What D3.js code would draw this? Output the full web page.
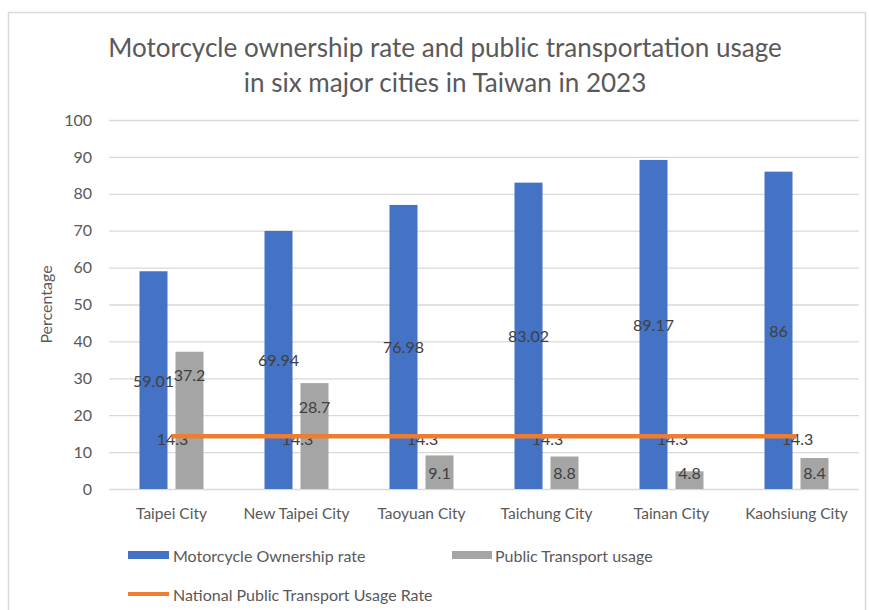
<!DOCTYPE html>
<html><head><meta charset="utf-8">
<script src="https://cdn.jsdelivr.net/npm/d3@7"></script>
<style>
body{margin:0;background:#fff}
svg text{font-family:Lato,"Liberation Sans",Arial,sans-serif;}
</style>
</head><body>
<svg id="chart" width="869" height="610"></svg>
<script>
const categories = ["Taipei City","New Taipei City","Taoyuan City","Taichung City","Tainan City","Kaohsiung City"];
const motorcycleOwnership = [59.01,69.94,76.98,83.02,89.17,86];
const publicTransportUsage = [37.2,28.7,9.1,8.8,4.8,8.4];
const nationalUsageRate = [14.3,14.3,14.3,14.3,14.3,14.3];
const yTicks = [0,10,20,30,40,50,60,70,80,90,100];
const seriesNames = ["Motorcycle Ownership rate","Public Transport usage","National Public Transport Usage Rate"];
const titleLines = ["Motorcycle ownership rate and public transportation usage","in six major cities in Taiwan in 2023"];
const yAxisTitle = "Percentage";

const colors = {moto:"#4472C4", pub:"#A5A5A5", nat:"#ED7D31"};
const textColor = "#595959", labelColor = "#404040";

const svg = d3.select("#chart");

// frame
svg.append("rect").attr("x",8.5).attr("y",12.5).attr("width",857).attr("height",640)
  .attr("fill","#fff").attr("stroke","#d9d9d9").attr("stroke-width",1.5);

// fit helper
function fit(sel, target){
  const w = sel.node().getComputedTextLength();
  const fs = parseFloat(sel.attr("font-size"));
  sel.attr("font-size", (fs*target/w).toFixed(2));
}

// title
const t1 = svg.append("text").attr("x",445).attr("y",47).attr("text-anchor","middle")
  .attr("dominant-baseline","central").attr("font-size",22).attr("fill",textColor).text(titleLines[0]);
fit(t1, 674);
const t2 = svg.append("text").attr("x",445).attr("y",82).attr("text-anchor","middle")
  .attr("dominant-baseline","central").attr("font-size",22).attr("fill",textColor).text(titleLines[1]);
t2.attr("font-size", t1.attr("font-size"));

const x0 = d3.scaleBand().domain(categories).range([109,859]).paddingInner(0).paddingOuter(0);
const y = d3.scaleLinear().domain([0,100]).range([489,120]);
const groupW = 64;
const x1 = d3.scaleBand().domain(["moto","pub"])
  .range([(x0.bandwidth()-groupW)/2,(x0.bandwidth()+groupW)/2]).paddingInner(8/36).paddingOuter(0);

// gridlines
svg.append("g").selectAll("line").data(yTicks).join("line")
  .attr("x1",109).attr("x2",859).attr("y1",d=>y(d)+0.5).attr("y2",d=>y(d)+0.5)
  .attr("stroke","#d9d9d9").attr("stroke-width",1.3);

// y axis labels
const yAxis = d3.axisLeft(y).tickValues(yTicks).tickSize(0).tickPadding(0);
const yg = svg.append("g").attr("transform","translate(92,0)").call(yAxis);
yg.select(".domain").remove();
yg.selectAll("text").attr("font-size",16).attr("fill",textColor).attr("font-family",null);

// y title
svg.append("text").attr("transform",`translate(45,${(y(0)+y(100))/2}) rotate(-90)`)
  .attr("text-anchor","middle").attr("dominant-baseline","central")
  .attr("font-size",16).attr("fill",textColor).text(yAxisTitle);

// x axis labels
const xAxis = d3.axisBottom(x0).tickSize(0).tickPadding(0);
const xg = svg.append("g").attr("transform","translate(0,508)").call(xAxis);
xg.select(".domain").remove();
xg.selectAll("text").attr("font-size",15.5).attr("fill",textColor).attr("font-family",null);

const rows = categories.map((c,i)=>({c, moto:motorcycleOwnership[i], pub:publicTransportUsage[i], nat:nationalUsageRate[i]}));

// bars
const groups = svg.append("g").selectAll("g").data(rows).join("g")
  .attr("transform",d=>`translate(${x0(d.c)},0)`);
groups.append("rect").attr("x",x1("moto")).attr("width",x1.bandwidth())
  .attr("y",d=>y(d.moto)).attr("height",d=>y(0)-y(d.moto)).attr("fill",colors.moto);
groups.append("rect").attr("x",x1("pub")).attr("width",x1.bandwidth())
  .attr("y",d=>y(d.pub)).attr("height",d=>y(0)-y(d.pub)).attr("fill",colors.pub);

// national line
const line = d3.line().x(d=>x0(d.c)+x0.bandwidth()/2).y(d=>y(d.nat));
svg.append("path").datum(rows).attr("d",line).attr("fill","none")
  .attr("stroke",colors.nat).attr("stroke-width",4.5);

// data labels
groups.append("text").attr("x",x1("moto")+x1.bandwidth()/2).attr("y",d=>y(d.moto/2))
  .attr("text-anchor","middle").attr("dominant-baseline","central")
  .attr("font-size",16).attr("fill",labelColor).text(d=>d.moto);
groups.append("text").attr("x",x1("pub")+x1.bandwidth()/2)
  .attr("y",d=>Math.min(y(d.pub)+23, y(0)-17))
  .attr("text-anchor","middle").attr("dominant-baseline","central")
  .attr("font-size",16).attr("fill",labelColor).text(d=>d.pub);
groups.append("text").attr("x",x0.bandwidth()/2+1).attr("y",d=>y(d.nat)+2)
  .attr("text-anchor","middle").attr("dominant-baseline","central")
  .attr("font-size",16).attr("fill",labelColor).text(d=>d.nat);

// legend
const lg = svg.append("g");
lg.append("rect").attr("x",128).attr("y",551).attr("width",41).attr("height",8).attr("fill",colors.moto);
lg.append("text").attr("x",173).attr("y",555).attr("dominant-baseline","central")
  .attr("font-size",16).attr("fill",textColor).text(seriesNames[0]);
lg.append("rect").attr("x",452).attr("y",551).attr("width",40).attr("height",8).attr("fill",colors.pub);
lg.append("text").attr("x",495).attr("y",555).attr("dominant-baseline","central")
  .attr("font-size",16).attr("fill",textColor).text(seriesNames[1]);
lg.append("line").attr("x1",128).attr("x2",169).attr("y1",594).attr("y2",594)
  .attr("stroke",colors.nat).attr("stroke-width",4);
lg.append("text").attr("x",173).attr("y",594).attr("dominant-baseline","central")
  .attr("font-size",16).attr("fill",textColor).text(seriesNames[2]);
</script>
</body></html>
